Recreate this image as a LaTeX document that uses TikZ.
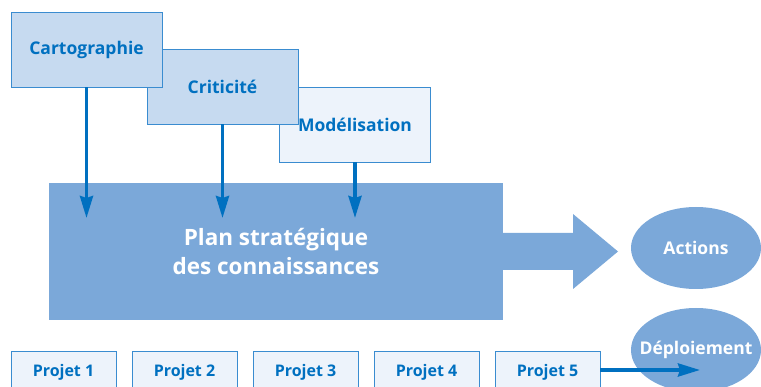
\documentclass[tikz,border=0pt]{standalone}
\usepackage[dvipsnames]{xcolor}
\usepackage{fontspec}
\setmainfont{Open Sans}
\usepackage{tikz}
\usetikzlibrary{arrows.meta,shapes.geometric}

\definecolor{boxline}{HTML}{3A8CD0}
\definecolor{boxfill}{HTML}{C6DAF0}
\definecolor{paleFill}{HTML}{EDF3FB}
\definecolor{planblue}{HTML}{7BA8D9}
\definecolor{darkblue}{HTML}{0070C0}

\begin{document}
\begin{tikzpicture}[x=1pt,y=-1pt]
        \tikzset{box/.style = {shape=rectangle,draw=boxline,line width=0.8pt,fill=boxfill,
                        minimum width=151pt,minimum height=75pt,inner sep=0pt,
                        font=\fontsize{17.5}{20}\selectfont\bfseries,text=darkblue},
                 projet/.style = {box,fill=paleFill,minimum width=105pt,minimum height=42pt,
                        font=\fontsize{16}{18}\selectfont\bfseries},
                 blob/.style = {shape=ellipse,fill=planblue,minimum width=130pt,minimum height=82pt,
                        inner sep=0pt,label={[text=white,font=\fontsize{17.5}{20}\selectfont\bfseries]center:#1}},
                 feed/.style = {draw=darkblue,line width=3.5pt,-{Stealth[length=22pt,width=13pt,inset=2pt]}}}
        \useasboundingbox (0,0) rectangle (761,387);
        \clip (0,0) rectangle (761,387);
        % inputs (drawn back to front)
        \node[box,fill=paleFill] (model) at (355,124.5) {Mod\'elisation};
        \node[box] (crit) at (222.5,86.5) {Criticit\'e};
        \node[box] (carto) at (86.5,49.5) {Cartographie};
        % plan and its outputs
        \node[fill=planblue,minimum width=454pt,minimum height=137pt,inner sep=0pt,
              align=center,text=white,font=\fontsize{22.5}{29}\selectfont\bfseries]
              (plan) at (276,251.5) {Plan strat\'egique\\des connaissances};
        \fill[planblue] (503,233) -- (573,233) -- (573,214) -- (618,251.5)
              -- (573,289) -- (573,270) -- (503,270) -- cycle;
        \node[blob=Actions] (actions) at (696,248) {};
        \node[blob=D\'eploiement,minimum height=84pt] (deploy) at (696,350) {};
        % projects
        \node[projet] (p1) at (63.5,372) {Projet 1};
        \node[projet] (p2) at (184.5,372) {Projet 2};
        \node[projet] (p3) at (305.5,372) {Projet 3};
        \node[projet] (p4) at (426.5,372) {Projet 4};
        \node[projet] (p5) at (547.5,372) {Projet 5};
        % arrows
        \coordinate (tips) at (0,218);
        \coordinate (deployTip) at (700,370);
        \draw[feed] (carto.south) -- (carto.south |- tips);
        \draw[feed] (crit.south) -- (crit.south |- tips);
        \draw[feed] (model.south) -- (model.south |- tips);
        \draw[feed] (p5.east |- deployTip) -- (deployTip);
        \end{tikzpicture}
\end{document}
